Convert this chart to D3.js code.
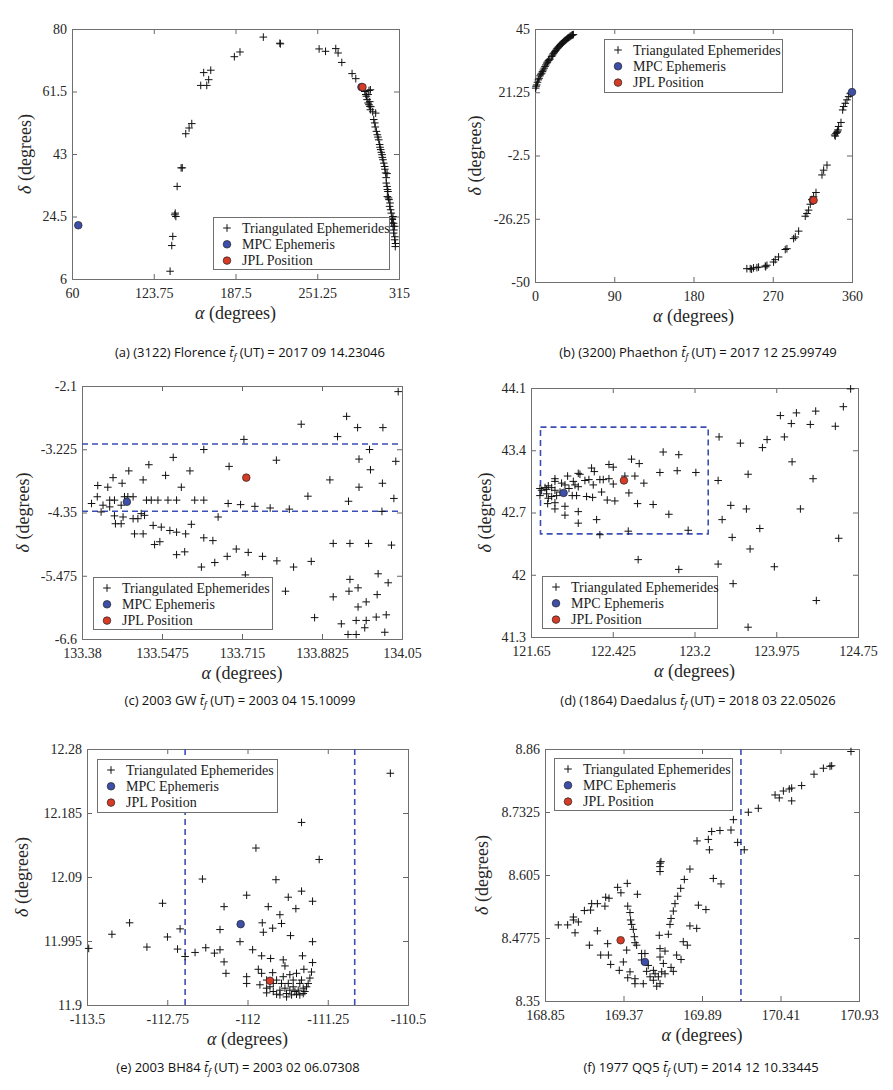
<!DOCTYPE html>
<html>
<head>
<meta charset="utf-8">
<script src="https://cdn.jsdelivr.net/npm/d3@7/dist/d3.min.js"></script>
<style>
html,body{margin:0;padding:0;background:#fff;}
svg{display:block;}
.serif{font-family:"Liberation Serif","Times New Roman",Tinos,Times,"Nimbus Roman","DejaVu Serif","Noto Serif",serif;}
</style>
</head>
<body>
<svg id="chart" width="893" height="1090"></svg>
<script>
// ---------------- DATA ----------------
// (a) (3122) Florence
const aXTicks = [60, 123.75, 187.5, 251.25, 315];
const aYTicks = [6, 24.5, 43, 61.5, 80];
const aTri = [
  [209.2,77.6],[222.1,75.8],[222.5,75.6],[252.7,74.1],[257.7,73.4],[265.7,74.2],[267.5,72.9],[270.4,70.1],
  [278.4,66.8],[281.3,65.3],[186.6,71.8],[191.0,73.2],[162.7,67.1],[168.2,67.8],[166.6,65.0],[160.4,63.3],
  [165.1,63.3],[148.7,49.0],[151.3,50.7],[153.4,52.0],[145.1,38.9],[146.0,38.9],[142.0,33.4],[140.5,25.5],
  [141.0,24.5],[140.2,25.0],[138.6,18.6],[137.8,15.9],[136.5,8.3],
  [288.3,61.5],[289.1,60.6],[289.6,60.1],[290.1,59.1],[290.9,58.1],[291.6,57.6],[292.2,57.1],[292.7,56.1],
  [296.8,55.1],[295.3,53.2],[296.1,52.2],[297.4,49.7],[298.1,48.7],[299.2,47.2],[299.9,45.8],[300.7,44.3],
  [301.8,42.8],[302.5,41.3],[303.1,40.3],[303.8,39.3],[304.6,37.4],[305.7,37.2],[305.1,34.4],[305.7,33.4],
  [306.4,31.9],[305.9,30.4],[307.2,29.5],[307.7,27.5],[309.0,25.5],[309.8,23.6],[310.3,21.6],[311.6,21.6],
  [310.8,19.6],[311.6,17.6],[312.1,15.6],[309.3,22.6],[310.3,24.5],[292.7,62.0],[291.6,61.8],
  [290.9,60.6],[292.2,58.5],[293.0,57.0],[294.5,55.5],[296.5,51.0],[298.6,48.0],[300.2,45.0],[301.2,43.5],
  [302.0,42.0],[304.0,38.5],[305.0,36.0],[306.0,32.5],[306.8,30.0],[308.0,28.5],[308.5,26.5],[309.5,24.0],
  [310.8,22.5],[311.0,20.5],[311.8,18.5],[312.3,16.5]
];
const aMPC = [[64.9,21.9],[285.7,62.8]];
const aJPL = [[286.5,62.8]];

// (b) (3200) Phaethon
const bXTicks = [0, 90, 180, 270, 360];
const bYTicks = [-50, -26.25, -2.5, 21.25, 45];
const bTri = [
  [0.8,22.8],[1.9,24.0],[3.8,25.9],[5.7,27.4],[7.6,28.4],[9.5,29.6],[11.4,30.9],[13.3,32.2],[15.2,33.1],
  [17.1,33.7],[18.9,34.7],[20.8,35.7],[22.7,36.6],[24.6,37.5],[26.5,38.2],[28.4,38.9],[30.3,39.5],[32.2,40.1],
  [34.1,40.7],[36.0,41.2],[37.9,41.7],[39.8,42.2],[41.7,42.6],[43.6,42.9],
  [1.2,23.5],[2.8,25.0],[4.7,26.5],[6.5,28.0],[8.5,29.0],[10.5,30.3],[12.3,31.5],[14.2,32.6],[16.0,33.4],
  [19.8,35.2],[21.8,36.1],[23.6,37.0],[25.5,37.8],[27.5,38.5],[29.3,39.2],[31.2,39.8],[33.1,40.4],[35.0,40.9],
  [37.0,41.5],[38.8,41.9],[40.7,42.4],[42.6,42.8],
  [240.6,-45.0],[244.4,-45.0],[248.2,-44.7],[252.0,-44.6],[253.9,-44.4],[261.5,-44.0],[263.4,-43.7],[270.9,-42.5],
  [272.8,-41.6],[276.6,-40.6],[284.2,-37.8],[286.1,-37.5],[293.7,-33.7],[295.6,-33.1],[299.4,-30.9],[306.9,-25.3],
  [308.8,-24.3],[310.7,-23.0],[312.6,-20.8],[314.5,-19.0],[316.4,-18.0],[319.1,-16.4],[325.9,-9.8],[327.8,-8.0],
  [331.6,-6.1],[340.3,5.2],[341.8,5.8],[342.9,6.1],[344.1,7.1],[344.8,8.4],[347.5,9.9],[349.4,14.6],[350.5,15.9],
  [352.4,17.1],[354.3,18.4],[356.2,19.6],[358.1,20.7],[341.0,4.8],[343.5,6.6],[262.0,-44.3],[246.0,-45.2]
];
const bMPC = [[360,21.3],[315.6,-19.3]];
const bJPL = [[316.4,-19.3]];

// (c) 2003 GW
const cXTicks = [133.38, 133.5475, 133.715, 133.8825, 134.05];
const cYTicks = [-6.6, -5.475, -4.35, -3.225, -2.1];
const cTri = [
  [133.400,-4.19],[133.413,-3.87],[133.412,-4.07],[133.424,-4.22],[133.420,-4.34],[133.434,-3.90],[133.438,-4.13],
  [133.445,-3.73],[133.448,-4.13],[133.438,-4.25],[133.462,-4.22],[133.464,-3.83],[133.448,-4.41],[133.450,-4.55],
  [133.462,-4.55],[133.466,-4.43],[133.469,-4.07],[133.476,-4.07],[133.487,-4.07],[133.478,-3.61],[133.487,-4.46],
  [133.490,-4.73],[133.497,-4.46],[133.504,-4.37],[133.508,-4.73],[133.508,-3.77],[133.511,-4.40],[133.515,-4.13],
  [133.520,-3.50],[133.525,-4.13],[133.529,-4.58],[133.532,-4.92],[133.539,-4.13],[133.543,-4.87],[133.546,-4.61],
  [133.555,-3.69],[133.560,-4.13],[133.564,-4.67],[133.571,-3.37],[133.578,-4.13],[133.578,-4.70],[133.578,-5.10],
  [133.588,-3.90],[133.595,-5.05],[133.597,-4.73],[133.606,-3.61],[133.609,-4.56],[133.616,-4.13],[133.630,-5.32],
  [133.635,-3.23],[133.635,-4.13],[133.635,-4.80],[133.654,-4.85],[133.658,-5.24],[133.665,-4.43],[133.684,-5.13],
  [133.686,-4.19],[133.688,-3.53],[133.703,-5.00],[133.712,-4.21],[133.719,-3.05],[133.722,-5.46],[133.728,-5.06],
  [133.742,-4.24],[133.758,-5.13],[133.774,-4.27],[133.787,-3.42],[133.788,-5.21],[133.806,-5.75],[133.814,-4.29],
  [133.823,-5.32],[133.839,-2.78],[133.853,-4.06],[133.860,-5.22],[133.867,-6.22],[133.899,-3.77],[133.906,-4.90],
  [133.906,-5.85],[133.915,-3.00],[133.923,-6.33],[133.934,-2.64],[133.937,-6.52],[133.938,-4.15],[133.939,-5.75],
  [133.941,-4.90],[133.941,-5.54],[133.954,-6.27],[133.954,-6.52],[133.957,-2.84],[133.958,-5.69],[133.958,-6.03],
  [133.960,-3.40],[133.960,-3.90],[133.972,-6.40],[133.975,-6.27],[133.975,-5.94],[133.980,-4.90],[133.982,-3.23],
  [133.984,-3.59],[133.996,-6.21],[133.998,-5.81],[134.000,-5.44],[134.008,-4.33],[134.009,-3.83],[134.010,-2.84],
  [134.014,-6.48],[134.017,-6.17],[134.021,-5.60],[134.028,-4.93],[134.033,-4.10],[134.037,-3.44],[134.042,-2.20]
];
const cMPC = [[133.474,-4.16]];
const cJPL = [[133.724,-3.73]];
const cHLines = [-3.131, -4.329];

// (d) (1864) Daedalus
const dXTicks = [121.65, 122.425, 123.2, 123.975, 124.75];
const dYTicks = [41.3, 42, 42.7, 43.4, 44.1];
const dTri = [
  [124.680,44.09],[124.611,43.89],[124.349,43.84],[124.166,43.82],[124.014,43.79],[124.118,43.70],[124.298,43.69],
  [124.535,43.67],[124.052,43.55],[123.888,43.52],[123.844,43.43],[123.635,43.48],[123.433,43.55],[124.125,43.27],
  [123.708,43.13],[124.324,43.08],[123.424,43.06],[123.544,42.78],[123.692,42.74],[124.204,42.74],[123.462,42.62],
  [123.819,42.52],[123.557,42.42],[124.567,42.41],[123.727,42.29],[123.957,42.09],[123.424,42.12],[123.566,41.90],
  [124.355,41.71],[123.708,41.41],
  [122.666,42.17],[123.051,42.06],[122.303,42.45],[122.572,42.49],[123.140,42.50],
  [122.903,43.38],[123.051,43.35],[122.603,43.30],[122.676,43.25],[122.389,43.24],[122.430,43.21],[122.224,43.20],
  [122.250,43.16],[122.114,43.13],[121.997,43.11],[122.098,43.14],[122.872,43.15],[123.036,43.17],[123.213,43.15],
  [122.635,43.11],[122.540,43.11],[122.389,43.08],[122.335,43.07],[122.303,43.07],[122.199,43.07],[122.161,43.06],
  [122.051,43.05],[122.067,43.01],[121.940,43.03],[121.877,43.08],[121.877,43.05],[121.972,43.01],[122.010,42.97],
  [122.098,42.99],[122.240,43.01],[122.430,43.02],[122.720,43.03],[121.814,43.00],[121.783,42.98],[121.846,42.98],
  [121.798,42.96],[121.735,42.97],[121.751,42.95],[121.877,42.95],[121.925,42.93],[121.735,42.89],[121.798,42.91],
  [121.814,42.86],[121.846,42.88],[121.893,42.89],[122.041,42.89],[122.082,42.89],[122.177,42.88],[122.234,42.87],
  [122.319,42.93],[122.578,42.92],[122.373,42.84],[122.445,42.83],[121.877,42.81],[121.808,42.80],[121.972,42.77],
  [122.660,42.80],[122.808,42.79],[121.877,42.74],[122.098,42.71],[122.957,42.68],[121.972,42.67],[122.098,42.58],
  [122.272,42.62]
];
const dMPC = [[121.959,42.92]];
const dJPL = [[122.531,43.06]];
const dRect = [121.74, 123.33, 42.46, 43.66];

// (e) 2003 BH84
const eXTicks = [-113.5, -112.75, -112, -111.25, -110.5];
const eYTicks = [11.9, 11.995, 12.09, 12.185, 12.28];
const eTri = [
  [-113.484,11.984],[-113.267,12.005],[-113.102,12.022],[-112.940,11.986],[-112.794,12.051],[-112.748,12.001],
  [-112.654,11.983],[-112.630,12.013],[-112.583,11.972],[-112.490,11.978],[-112.421,12.087],[-112.390,11.985],
  [-112.309,11.977],[-112.257,11.982],[-112.257,12.012],[-112.219,12.046],[-112.219,11.964],[-112.201,11.947],
  [-112.070,11.994],[-112.008,12.063],[-112.008,11.942],[-112.008,11.932],[-111.952,11.982],[-111.921,12.133],
  [-111.899,11.953],[-111.884,11.930],[-111.868,11.973],[-111.862,12.022],[-111.852,12.008],[-111.821,11.918],
  [-111.806,12.046],[-111.784,11.969],[-111.765,12.014],[-111.765,11.948],[-111.734,12.086],[-111.697,12.034],
  [-111.682,12.021],[-111.666,11.967],[-111.650,11.958],[-111.619,12.060],[-111.598,12.003],[-111.548,12.043],
  [-111.495,12.171],[-111.495,12.069],[-111.486,11.973],[-111.473,11.953],[-111.392,12.054],[-111.392,11.994],
  [-111.392,11.963],[-111.330,12.116],[-110.665,12.244],
  [-111.868,11.947],[-111.821,11.937],[-111.790,11.927],[-111.759,11.920],[-111.728,11.916],[-111.697,11.922],
  [-111.682,11.932],[-111.666,11.942],[-111.650,11.925],[-111.635,11.917],[-111.619,11.932],[-111.604,11.922],
  [-111.588,11.915],[-111.573,11.927],[-111.557,11.920],[-111.542,11.916],[-111.526,11.922],[-111.511,11.932],
  [-111.495,11.937],[-111.479,11.925],[-111.464,11.920],[-111.448,11.927],[-111.433,11.932],[-111.417,11.940],
  [-111.402,11.949],[-111.604,11.945],[-111.573,11.937],[-111.542,11.947],[-111.759,11.932],[-111.728,11.937],
  [-111.821,11.925],[-111.697,11.915],[-111.635,11.912],[-111.511,11.915],[-111.479,11.917]
];
const eMPC = [[-112.064,12.020]];
const eJPL = [[-111.790,11.936]];
const eVLines = [-112.583, -110.998];

// (f) 1977 QQ5
const fXTicks = [168.85, 169.37, 169.89, 170.41, 170.93];
const fYTicks = [8.35, 8.4775, 8.605, 8.7325, 8.86];
const fTri = [
  [170.877,8.855],[170.749,8.826],[170.738,8.825],[170.694,8.821],[170.632,8.809],[170.550,8.786],[170.484,8.781],
  [170.468,8.779],[170.429,8.775],[170.402,8.761],[170.374,8.767],[170.484,8.755],[170.263,8.740],[170.197,8.732],
  [170.098,8.717],[170.082,8.696],[170.009,8.695],[169.954,8.693],[169.932,8.677],[169.857,8.674],[169.939,8.656],
  [170.126,8.671],[170.170,8.656],[169.810,8.617],[169.773,8.596],[169.749,8.578],[169.729,8.562],[169.711,8.547],
  [169.700,8.532],[169.685,8.517],[169.678,8.505],[169.667,8.485],[169.965,8.598],[170.016,8.587],[169.866,8.544],
  [169.916,8.535],[169.810,8.502],[169.855,8.497],[169.766,8.470],[169.793,8.463],[169.722,8.443],[169.751,8.434],
  [169.685,8.418],[169.700,8.410],[169.612,8.629],[169.612,8.622],[169.612,8.612],[169.618,8.632],[169.607,8.483],
  [169.612,8.456],[169.645,8.451],[169.612,8.439],[169.634,8.426],[169.623,8.409],[169.645,8.405],[169.601,8.399],
  [169.612,8.385],[169.590,8.380],[169.568,8.392],[169.546,8.399],[169.579,8.405],[169.568,8.412],[169.534,8.422],
  [169.523,8.410],[169.512,8.446],[169.501,8.385],[169.490,8.433],[169.446,8.395],[169.446,8.385],[169.413,8.409],
  [169.398,8.397],[169.391,8.453],[169.369,8.429],[169.342,8.412],[169.285,8.424],[169.270,8.443],[169.219,8.443],
  [169.144,8.463],[169.265,8.466],[169.197,8.492],[169.049,8.488],[168.938,8.504],[169.000,8.504],[169.038,8.514],
  [169.038,8.520],[169.071,8.510],[169.111,8.533],[169.152,8.534],[169.159,8.547],[169.197,8.547],[169.247,8.542],
  [169.252,8.560],[169.274,8.558],[169.331,8.580],[169.353,8.569],[169.395,8.588],[169.462,8.566],[169.398,8.542],
  [169.413,8.529],[169.417,8.514],[169.424,8.505],[169.435,8.495],[169.442,8.480],[169.446,8.468],[169.457,8.463],
  [169.490,8.446]
];
const fMPC = [[169.512,8.429]];
const fJPL = [[169.351,8.473]];
const fVLines = [170.148];

const legendLabels = ["Triangulated Ephemerides", "MPC Ephemeris", "JPL Position"];
const captionPre = ["(a) (3122) Florence", "(b) (3200) Phaethon", "(c) 2003 GW", "(d) (1864) Daedalus", "(e) 2003 BH84", "(f) 1977 QQ5"];
const captionPost = ["(UT) = 2017 09 14.23046", "(UT) = 2017 12 25.99749", "(UT) = 2003 04 15.10099", "(UT) = 2018 03 22.05026", "(UT) = 2003 02 06.07308", "(UT) = 2014 12 10.33445"];

// ---------------- LAYOUT ----------------
const SANS = "'Open Sans','Noto Sans',sans-serif";
const BLUE = "#3d4fa8", RED = "#d63b25", DASH = "#3c4fb4";

const panels = [
  {tri:aTri, mpc:aMPC, jpl:aJPL, xt:aXTicks, yt:aYTicks, L:72, R:399, T:29, B:279, ylx:25, leg:[213,217,176,52], cap:[250,352]},
  {tri:bTri, mpc:bMPC, jpl:bJPL, xt:bXTicks, yt:bYTicks, L:535, R:852, T:29, B:282, ylx:475, leg:[604,39,178,53], cap:[698,352]},
  {tri:cTri, mpc:cMPC, jpl:cJPL, xt:cXTicks, yt:cYTicks, L:82, R:402, T:386, B:639, ylx:23, leg:[93,577,179,52], cap:[240,700], hl:cHLines},
  {tri:dTri, mpc:dMPC, jpl:dJPL, xt:dXTicks, yt:dYTicks, L:531, R:858, T:388, B:637, ylx:485, leg:[542,576,175,52], cap:[698,700], rect:dRect},
  {tri:eTri, mpc:eMPC, jpl:eJPL, xt:eXTicks, yt:eYTicks, L:87, R:408, T:749, B:1005, ylx:22, leg:[97,759,180,53], cap:[238,1067], vl:eVLines},
  {tri:fTri, mpc:fMPC, jpl:fJPL, xt:fXTicks, yt:fYTicks, L:545, R:859, T:749, B:1001, ylx:482, leg:[554,758,178,52], cap:[701,1067], vl:fVLines}
];

const svg = d3.select("#chart");
const plus = "M-3.8,0H3.8M0,-3.8V3.8";

panels.forEach((p, i) => {
  const g = svg.append("g");
  const x = d3.scaleLinear().domain([p.xt[0], p.xt[p.xt.length-1]]).range([p.L, p.R]);
  const y = d3.scaleLinear().domain([p.yt[0], p.yt[p.yt.length-1]]).range([p.B, p.T]);

  const fmt = d => String(d);
  const styleAxis = sel => {
    sel.attr("font-family", null).attr("font-size", null);
    sel.select(".domain").remove();
    sel.selectAll(".tick line").attr("stroke", "#666").attr("stroke-width", 1);
    sel.selectAll(".tick text").attr("fill", "#262626").attr("class", "serif").style("font-size", "14px");
  };
  g.append("g").attr("transform", `translate(0,${p.B})`)
    .call(d3.axisBottom(x).tickValues(p.xt).tickFormat(fmt).tickSize(-5).tickPadding(9)).call(styleAxis);
  g.append("g").attr("transform", `translate(0,${p.T})`)
    .call(d3.axisTop(x).tickValues(p.xt).tickFormat("").tickSize(-5)).call(styleAxis);
  g.append("g").attr("transform", `translate(${p.L},0)`)
    .call(d3.axisLeft(y).tickValues(p.yt).tickFormat(fmt).tickSize(-5).tickPadding(5)).call(styleAxis);
  g.append("g").attr("transform", `translate(${p.R},0)`)
    .call(d3.axisRight(y).tickValues(p.yt).tickFormat("").tickSize(-5)).call(styleAxis);

  g.append("rect").attr("x", p.L+0.5).attr("y", p.T+0.5).attr("width", p.R-p.L).attr("height", p.B-p.T)
    .attr("fill", "none").attr("stroke", "#707070").attr("stroke-width", 1);

  const dashAttr = s => s.attr("stroke", DASH).attr("stroke-width", 1.6).attr("stroke-dasharray", "6,4").attr("fill", "none");
  if (p.hl) p.hl.forEach(v => g.append("line").attr("x1", p.L).attr("x2", p.R).attr("y1", y(v)).attr("y2", y(v)).call(dashAttr));
  if (p.vl) p.vl.forEach(v => g.append("line").attr("x1", x(v)).attr("x2", x(v)).attr("y1", p.T).attr("y2", p.B).call(dashAttr));
  if (p.rect) {
    const [x0,x1,y0,y1] = p.rect;
    g.append("rect").attr("x", x(x0)).attr("y", y(y1)).attr("width", x(x1)-x(x0)).attr("height", y(y0)-y(y1)).call(dashAttr);
  }

  g.append("g").selectAll("path").data(p.tri).join("path")
    .attr("transform", d => `translate(${x(d[0])},${y(d[1])})`)
    .attr("d", plus).attr("stroke", "#111").attr("stroke-width", 1).attr("fill", "none");
  g.append("g").selectAll("circle").data(p.mpc).join("circle")
    .attr("cx", d => x(d[0])).attr("cy", d => y(d[1])).attr("r", 3.8)
    .attr("fill", BLUE).attr("stroke", "#222").attr("stroke-width", 0.7);
  g.append("g").selectAll("circle").data(p.jpl).join("circle")
    .attr("cx", d => x(d[0])).attr("cy", d => y(d[1])).attr("r", 3.8)
    .attr("fill", RED).attr("stroke", "#222").attr("stroke-width", 0.7);

  const [lx, ly, lw, lh] = p.leg;
  const lg = g.append("g");
  lg.append("rect").attr("x", lx+0.5).attr("y", ly+0.5).attr("width", lw).attr("height", lh)
    .attr("fill", "#fff").attr("stroke", "#707070").attr("stroke-width", 1);
  legendLabels.forEach((t, k) => {
    const cy = ly + 11 + k*16.3;
    const mx = lx + 14;
    if (k === 0) lg.append("path").attr("transform", `translate(${mx},${cy})`).attr("d", plus).attr("stroke", "#111").attr("fill", "none");
    else lg.append("circle").attr("cx", mx).attr("cy", cy).attr("r", 3.8).attr("fill", k === 1 ? BLUE : RED).attr("stroke", "#222").attr("stroke-width", 0.7);
    lg.append("text").attr("class", "serif").attr("x", lx + 29).attr("y", cy + 4.8).text(t)
      .style("font-size", "14px").attr("fill", "#1a1a1a");
  });

  const xl = g.append("text").attr("class", "serif").attr("x", (p.L+p.R)/2).attr("y", p.B + 40).attr("text-anchor", "middle")
    .style("font-size", "18px").attr("fill", "#262626");
  xl.append("tspan").style("font-style", "italic").text("α");
  xl.append("tspan").text(" (degrees)");
  const yl = g.append("text").attr("class", "serif").attr("transform", `translate(${p.ylx + 6},${(p.T+p.B)/2}) rotate(-90)`).attr("text-anchor", "middle")
    .style("font-size", "18px").attr("fill", "#262626");
  yl.append("tspan").style("font-style", "italic").text("δ");
  yl.append("tspan").text(" (degrees)");

  const cap = g.append("text").attr("x", p.cap[0]).attr("y", p.cap[1] + 4.5).attr("text-anchor", "middle")
    .style("font-family", SANS).style("font-size", "13px").attr("fill", "#111");
  cap.append("tspan").text(captionPre[i] + " ");
  cap.append("tspan").style("font-style", "italic").text("t\u0304");
  cap.append("tspan").style("font-style", "italic").style("font-size", "8.5px").attr("dy", 3).text("f");
  cap.append("tspan").attr("dy", -3).text(" " + captionPost[i]);
});
</script>
</body>
</html>
